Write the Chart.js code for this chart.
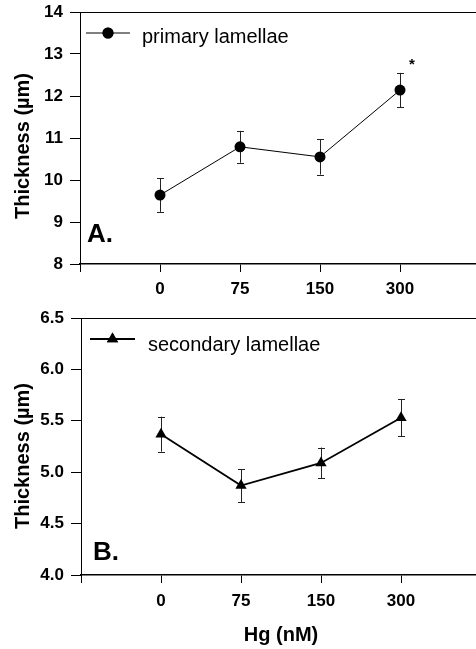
<!DOCTYPE html>
<html><head><meta charset="utf-8">
<script src="https://cdn.jsdelivr.net/npm/chart.js@4/dist/chart.umd.min.js"></script>
<style>
html,body{margin:0;padding:0;background:#fff;overflow:hidden;width:476px;height:649px;}
#a{position:absolute;left:0;top:0;}
#b{position:absolute;left:0;top:310px;}
</style></head><body>
<div id="a"><canvas id="ca" width="480" height="310"></canvas></div>
<div id="b"><canvas id="cb" width="481" height="339"></canvas></div>
<script>
// ---- data ----
const categories = ['0', '75', '150', '300'];
const primaryMean = [9.64, 10.79, 10.55, 12.14];
const primaryErr  = [0.40, 0.38, 0.42, 0.41];
const secondaryMean = [5.37, 4.87, 5.09, 5.53];
const secondaryErr  = [0.17, 0.16, 0.15, 0.18];
const primaryRange = [8, 14];
const primaryStep = 1;
const secondaryRange = [4.0, 6.5];
const secondaryStep = 0.5;
const significant = [false, false, false, true];

const FONT = "'Liberation Sans', Arial, Helvetica, sans-serif";

function decor(o) {
  return {
    id: 'decor',
    beforeDatasetsDraw(chart) {
      const {ctx} = chart;
      const xs = chart.scales.x, ys = chart.scales.y;
      const cap = 3.5;
      ctx.save();
      ctx.strokeStyle = '#222';
      ctx.lineWidth = 1;
      o.mean.forEach((m, i) => {
        const x = Math.round(xs.getPixelForValue(i)) + 0.5;
        const yt = ys.getPixelForValue(m + o.err[i]);
        const yb = ys.getPixelForValue(m - o.err[i]);
        ctx.beginPath();
        ctx.moveTo(x, yt); ctx.lineTo(x, yb);
        ctx.moveTo(x - cap, Math.round(yt) + 0.5); ctx.lineTo(x + cap, Math.round(yt) + 0.5);
        ctx.moveTo(x - cap, Math.round(yb) + 0.5); ctx.lineTo(x + cap, Math.round(yb) + 0.5);
        ctx.stroke();
      });
      ctx.restore();
    },
    afterDraw(chart) {
      const {ctx, chartArea} = chart;
      const xs = chart.scales.x, ys = chart.scales.y;
      ctx.save();
      // top frame line
      ctx.strokeStyle = '#000';
      ctx.lineWidth = 1;
      ctx.beginPath();
      ctx.moveTo(chartArea.left, Math.round(chartArea.top) + 0.5);
      ctx.lineTo(chartArea.right, Math.round(chartArea.top) + 0.5);
      ctx.stroke();
      // y axis title
      ctx.fillStyle = '#000';
      ctx.font = 'bold 20px ' + FONT;
      ctx.textAlign = 'center';
      ctx.textBaseline = 'middle';
      ctx.save();
      ctx.translate(o.ytitleX, o.ytitleY);
      ctx.rotate(-Math.PI / 2);
      ctx.fillText('Thickness (\u00b5m)', 0, 0);
      ctx.restore();
      // panel letter
      ctx.font = 'bold 26px ' + FONT;
      ctx.textAlign = 'left';
      ctx.textBaseline = 'alphabetic';
      ctx.fillText(o.letter, o.letterX, o.letterY);
      // legend
      const ds = chart.data.datasets[0];
      ctx.strokeStyle = '#000';
      ctx.lineWidth = ds.borderWidth;
      ctx.beginPath();
      ctx.moveTo(o.legX0, o.legY); ctx.lineTo(o.legX1, o.legY);
      ctx.stroke();
      Chart.helpers.drawPoint(ctx, {pointStyle: ds.pointStyle, radius: ds.pointRadius, borderWidth: 0, rotation: 0},
        (o.legX0 + o.legX1) / 2, o.legY);
      ctx.fillStyle = '#000';
      ctx.fill();
      ctx.font = '20px ' + FONT;
      ctx.fillText(ds.label, o.legTextX, o.legTextY);
      // significance marks
      if (o.sig) {
        ctx.font = 'bold 15px ' + FONT;
        ctx.textAlign = 'center';
        o.sig.forEach((s, i) => {
          if (!s) return;
          const x = xs.getPixelForValue(i) + 12;
          const y = ys.getPixelForValue(o.mean[i] + o.err[i]) - 4;
          ctx.fillText('*', x, y);
        });
      }
      ctx.restore();
    }
  };
}

function makeChart(id, label, mean, range, step, fmt, pointStyle, radius, lw, yWidth, topPad, xHeight, tickPad, xTitle, o) {
  return new Chart(document.getElementById(id), {
    type: 'line',
    data: {
      datasets: [{
        label: label,
        data: mean.map((y, i) => ({x: i, y: y})),
        borderColor: '#000',
        backgroundColor: '#000',
        borderWidth: lw,
        pointStyle: pointStyle,
        pointRadius: radius,
        pointBorderWidth: 0,
        pointBackgroundColor: '#000',
        tension: 0
      }]
    },
    options: {
      responsive: false,
      animation: false,
      devicePixelRatio: 1,
      layout: {autoPadding: false, padding: {top: topPad, left: 0, right: 0, bottom: 0}},
      plugins: {legend: {display: false}, tooltip: {enabled: false}},
      scales: {
        x: {
          type: 'linear', min: -1, max: 4,
          afterFit(s) { s.height = xHeight; s.paddingLeft = 0; s.paddingRight = 0; },
          grid: {drawOnChartArea: false, drawTicks: true, tickLength: 8, color: '#000', tickColor: '#000', lineWidth: 1},
          border: {display: true, color: '#000', width: 1.5},
          ticks: {
            stepSize: 1, autoSkip: false, maxRotation: 0, padding: tickPad, color: '#000',
            font: {family: FONT, size: 17, weight: 'bold'},
            callback: v => (categories[v] !== undefined ? categories[v] : '')
          },
          title: xTitle ? {display: true, text: xTitle, color: '#000', font: {family: FONT, size: 20, weight: 'bold'}, padding: {top: 0, bottom: 2}} : {display: false}
        },
        y: {
          min: range[0], max: range[1],
          afterFit(s) { s.width = yWidth; s.paddingTop = 0; s.paddingBottom = 0; },
          grid: {drawOnChartArea: false, drawTicks: true, tickLength: 10, color: '#000', tickColor: '#000', lineWidth: 1},
          border: {display: true, color: '#000', width: 1},
          ticks: {
            stepSize: step, padding: 7, color: '#000',
            font: {family: FONT, size: 17, weight: 'bold'},
            callback: fmt
          }
        }
      }
    },
    plugins: [decor(o)]
  });
}

makeChart('ca', 'primary lamellae', primaryMean, primaryRange, primaryStep, v => String(v),
  'circle', 5.5, 1, 80, 12, 46, 7, null,
  {mean: primaryMean, err: primaryErr, sig: significant, ytitleX: 23.5, ytitleY: 146,
   letter: 'A.', letterX: 87, letterY: 242, legX0: 86, legX1: 130, legY: 33, legTextX: 142, legTextY: 43});

makeChart('cb', 'secondary lamellae', secondaryMean, secondaryRange, secondaryStep, v => v.toFixed(1),
  'triangle', 6.5, 1.8, 81, 8, 74, 8, 'Hg (nM)',
  {mean: secondaryMean, err: secondaryErr, sig: null, ytitleX: 23, ytitleY: 146,
   letter: 'B.', letterX: 93, letterY: 250, legX0: 90, legX1: 135, legY: 29, legTextX: 148, legTextY: 41});
</script>
</body></html>
